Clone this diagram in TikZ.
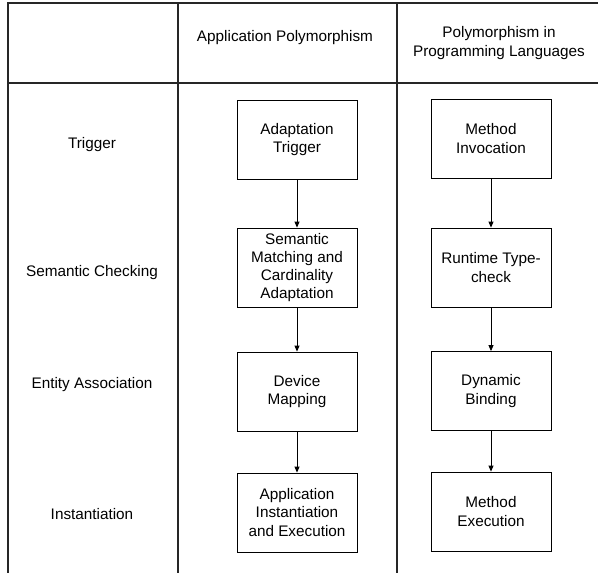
\documentclass[tikz,border=0pt]{standalone}
\usepackage{fontspec}
\setmainfont{Liberation Sans}
\usetikzlibrary{arrows.meta}
\begin{document}
\begin{tikzpicture}[x=1pt,y=-1pt,
  grid/.style={line width=1.2pt,black!85},
  stagebox/.style={draw,line width=0.8pt,minimum width=120pt,minimum height=79pt,align=center,inner sep=2pt,
    font=\fontsize{15.3pt}{18.3pt}\selectfont},
  label/.style={align=center,font=\fontsize{15.3pt}{18.3pt}\selectfont},
  flow/.style={line width=0.8pt,-{Triangle[length=6pt,width=5pt]}}]
\useasboundingbox (0,0) rectangle (598,573);
% table lines
\draw[grid] (8,573) -- (8,3) -- (598,3);
\draw[grid] (8,83) -- (598,83);
\draw[grid] (178,3) -- (178,573);
\draw[grid] (397,3) -- (397,573);
% headers
\node[label] (h1) at (285,38) {Application Polymorphism};
\node[label] (h2) at (499,43) {Polymorphism in\\Programming Languages};
% row labels
\node[label] (r1) at (92,145) {Trigger};
\node[label] (r2) at (92,273) {Semantic Checking};
\node[label] (r3) at (92,385) {Entity Association};
\node[label] (r4) at (92,514) {Instantiation};
% application polymorphism column
\node[stagebox] (a1) at (297,139.5) {Adaptation\\Trigger};
\node[stagebox] (a2) at (297,267.5) {Semantic\\Matching and\\Cardinality\\Adaptation};
\node[stagebox] (a3) at (297,391.5) {Device\\Mapping};
\node[stagebox] (a4) at (297,512.5) {Application\\Instantiation\\and Execution};
% programming languages column
\node[stagebox] (b1) at (491,138.5) {Method\\Invocation};
\node[stagebox] (b2) at (491,267.5) {Runtime Type-\\check};
\node[stagebox] (b3) at (491,391) {Dynamic\\Binding};
\node[stagebox] (b4) at (491,511.5) {Method\\Execution};
% connectors
\draw[flow] (a1) -- (a2);
\draw[flow] (a2) -- (a3);
\draw[flow] (a3) -- (a4);
\draw[flow] (b1) -- (b2);
\draw[flow] (b2) -- (b3);
\draw[flow] (b3) -- (b4);
\end{tikzpicture}
\end{document}
